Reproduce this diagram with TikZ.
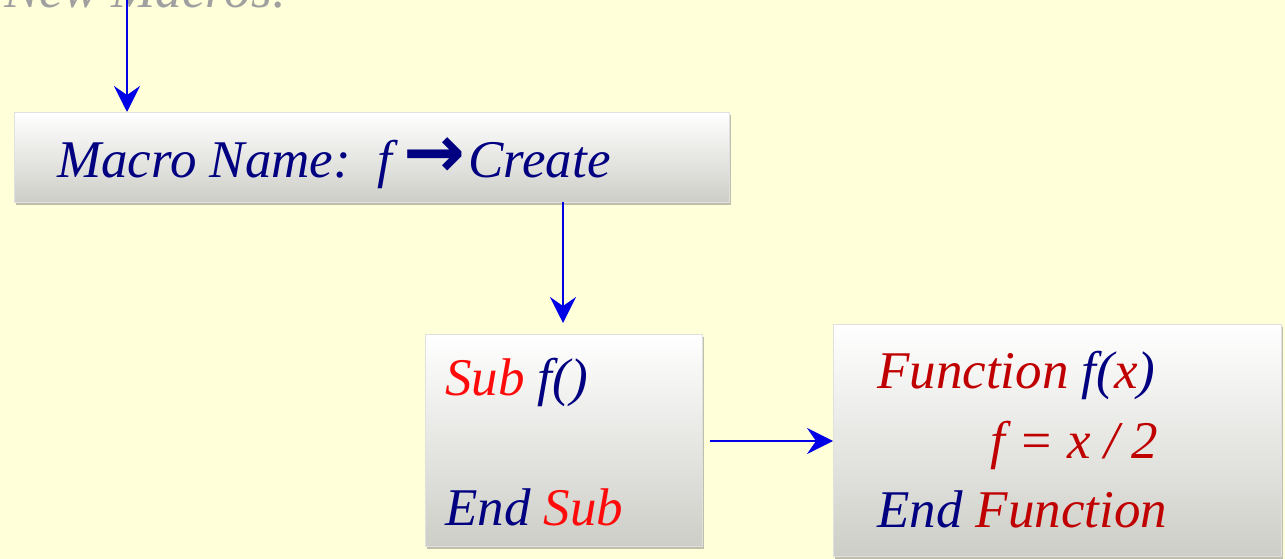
\documentclass[tikz,border=0pt]{standalone}
\usepackage{fontspec}
\setmainfont{Liberation Serif}
\newfontfamily\symfont{DejaVu Sans}
\usetikzlibrary{arrows.meta,shadows}
\definecolor{bgyellow}{RGB}{255,255,217}
\definecolor{navy}{RGB}{0,0,128}
\definecolor{brightred}{RGB}{255,10,10}
\definecolor{darkred}{RGB}{192,0,0}
\definecolor{arrowblue}{RGB}{0,0,230}
\definecolor{boxbottom}{RGB}{206,206,200}
\definecolor{titlegray}{RGB}{160,160,160}
\tikzset{
  codebox/.style={rectangle, anchor=north west, inner sep=0pt,
    top color=white, bottom color=boxbottom, draw=white!88!black, line width=0.8pt,
    drop shadow={shadow xshift=2pt, shadow yshift=-3pt, opacity=0.45, fill=black!55}},
  codetext/.style={anchor=base west, inner sep=0pt, font=\fontsize{53}{60}\selectfont\itshape},
  flow/.style={-{Stealth[length=26pt,width=26pt,inset=9pt]}, draw=arrowblue, line width=2pt}
}
\begin{document}
\begin{tikzpicture}[x=1pt,y=-1pt]
\fill[bgyellow] (0,0) rectangle (1285,559);
\useasboundingbox (0,0) rectangle (1285,559);
\begin{scope}
\clip (0,0) rectangle (1285,559);
\node[codetext, text=titlegray] (title) at (4,8) {New Macros:};
\end{scope}
% boxes
\node[codebox, minimum width=715pt, minimum height=90pt] (macro) at (14,112) {};
\node[codebox, minimum width=277pt, minimum height=212pt] (sub) at (425,334) {};
\node[codebox, minimum width=448pt, minimum height=232pt] (func) at (833,324) {};
% texts
\node[codetext, text=navy] (macrotext) at (57,177) {Macro Name:\ \ f\hspace{11pt}{\symfont\bfseries\fontsize{74}{78}\selectfont\raisebox{0pt}{→}}\hspace{3pt}Create};
\node[codetext] (subline1) at (445,395) {\textcolor{brightred}{Sub} \textcolor{navy}{f()}};
\node[codetext] (subline2) at (445,525) {\textcolor{navy}{End} \textcolor{brightred}{Sub}};
\node[codetext] (funcline1) at (877,388) {\textcolor{darkred}{Function} \textcolor{navy}{f(}\textcolor{darkred}{x}\textcolor{navy}{)}};
\node[codetext, text=darkred] (funcline2) at (990,458) {f = x / 2};
\node[codetext] (funcline3) at (877,527) {\textcolor{navy}{End} \textcolor{darkred}{Function}};
% connectors
\coordinate (start) at (127,0);
\draw[flow] (start) -- (start |- macro.north);
\coordinate (m2) at (563,202);
\draw[flow] (m2) -- ([yshift=11pt]m2 |- sub.north);
\coordinate (s3) at (710,441);
\draw[flow] (s3) -- (s3 -| func.west);
\end{tikzpicture}
\end{document}
